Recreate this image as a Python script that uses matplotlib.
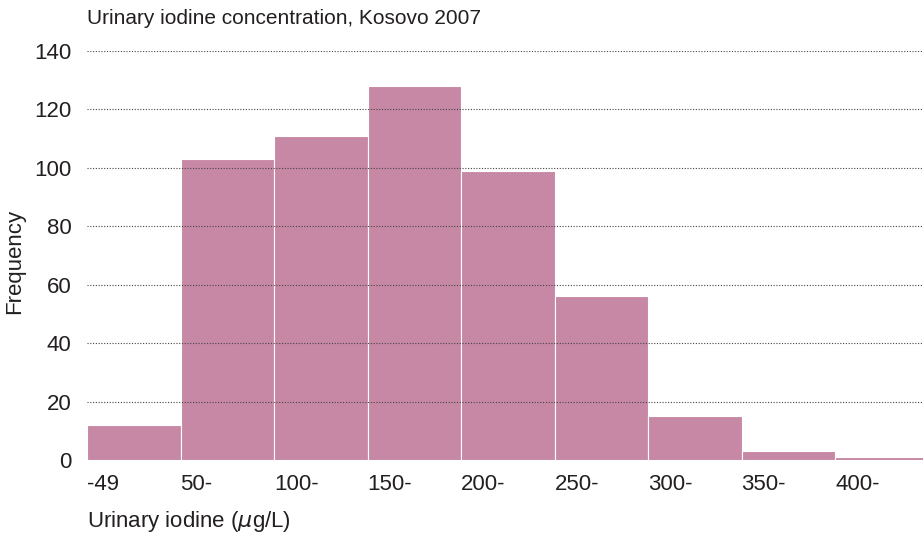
import matplotlib
matplotlib.use("Agg")
import matplotlib.pyplot as plt

plt.rcParams['font.family'] = ['Liberation Sans', 'DejaVu Sans']

bin_starts = [0, 50, 100, 150, 200, 250, 300, 350, 400]
bin_labels = ['-49', '50-', '100-', '150-', '200-', '250-', '300-', '350-', '400-']
frequency = [12, 103, 111, 128, 99, 56, 15, 3, 1]
bin_width = 50

bar_color = '#c788a5'
text_color = '#231f20'

fig = plt.figure(figsize=(9.23, 5.39), dpi=100)
ax = fig.add_axes([87 / 923, 1 - 460 / 539, 1 - 87 / 923, (460 - 51) / 539])

ax.bar(bin_starts, frequency, width=bin_width, align='edge', color=bar_color,
       edgecolor='white', linewidth=0.8, zorder=1)

ax.set_xlim(0, 447)
ax.set_ylim(0, 140)
ax.set_yticks(range(0, 141, 20))
ax.set_xticks(bin_starts)
ax.set_xticklabels(bin_labels, ha='left')

# dotted grid on top of the bars
ax.set_axisbelow(False)
ax.yaxis.grid(True, linestyle=(0, (1, 1.5)), color='#444444', linewidth=0.8)
ax.xaxis.grid(False)
for s in ax.spines.values():
    s.set_visible(False)

ax.tick_params(axis='both', length=0, labelsize=16, colors=text_color)
ax.tick_params(axis='x', pad=10)
ax.tick_params(axis='y', pad=11)

fig.text(87 / 923, 1 - 19 / 539, 'Urinary iodine concentration, Kosovo 2007',
         ha='left', va='center', fontsize=15, color=text_color)
fig.text(87 / 923, 1 - 521 / 539, 'Urinary iodine ($\\mu$g/L)',
         ha='left', va='center', fontsize=16, color=text_color)
fig.text(15 / 923, 1 - 261 / 539, 'Frequency', rotation=90,
         ha='center', va='center', fontsize=16, color=text_color)

fig.savefig('out.png', dpi=100)
